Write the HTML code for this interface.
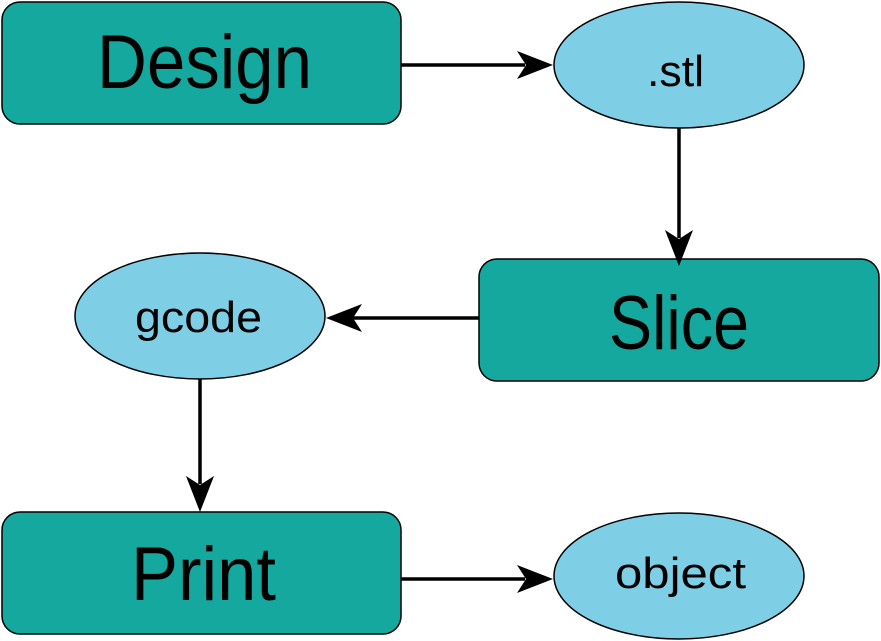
<!DOCTYPE html>
<html><head><meta charset="utf-8"><style>html,body{margin:0;padding:0;background:#fff;}svg{display:block}</style></head>
<body>
<svg width="881" height="641" viewBox="0 0 881 641" xmlns="http://www.w3.org/2000/svg" font-family="Liberation Sans, sans-serif">
<g fill="#14a89e" stroke="#000" stroke-width="1.5">
<rect x="2" y="2" width="399" height="122" rx="18"/>
<rect x="479" y="259" width="400" height="122" rx="18"/>
<rect x="2" y="512" width="399" height="122" rx="18"/>
</g>
<g fill="#7ecfe6" stroke="#000" stroke-width="1.5">
<ellipse cx="679" cy="65" rx="125" ry="63"/>
<ellipse cx="200" cy="316" rx="125" ry="63"/>
<ellipse cx="679" cy="576" rx="125" ry="63"/>
</g>
<g stroke="#000" stroke-width="3.5" fill="none">
<line x1="401" y1="65" x2="525" y2="65"/>
<line x1="679" y1="128" x2="679" y2="238"/>
<line x1="479" y1="318" x2="352" y2="318"/>
<line x1="200" y1="379" x2="200" y2="484"/>
<line x1="401" y1="579" x2="525" y2="579"/>
</g>
<g fill="#000">
<polygon points="553,65 517,51 526,65 517,79"/>
<polygon points="679,266 665,230 679,239 693,230"/>
<polygon points="326,318 362,304 353,318 362,332"/>
<polygon points="200,512 186,476 200,485 214,476"/>
<polygon points="553,579 517,565 526,579 517,593"/>
</g>
<g fill="#000">
<text x="97" y="88" font-size="76" textLength="215" lengthAdjust="spacingAndGlyphs">Design</text>
<text x="609" y="349" font-size="76" textLength="140" lengthAdjust="spacingAndGlyphs">Slice</text>
<text x="131" y="600" font-size="76" textLength="145" lengthAdjust="spacingAndGlyphs">Print</text>
<text x="647" y="86" font-size="44" textLength="57" lengthAdjust="spacingAndGlyphs">.stl</text>
<text x="135" y="332" font-size="44" textLength="127" lengthAdjust="spacingAndGlyphs">gcode</text>
<text x="615" y="588" font-size="44" textLength="131" lengthAdjust="spacingAndGlyphs">object</text>
</g>
</svg>
</body></html>
